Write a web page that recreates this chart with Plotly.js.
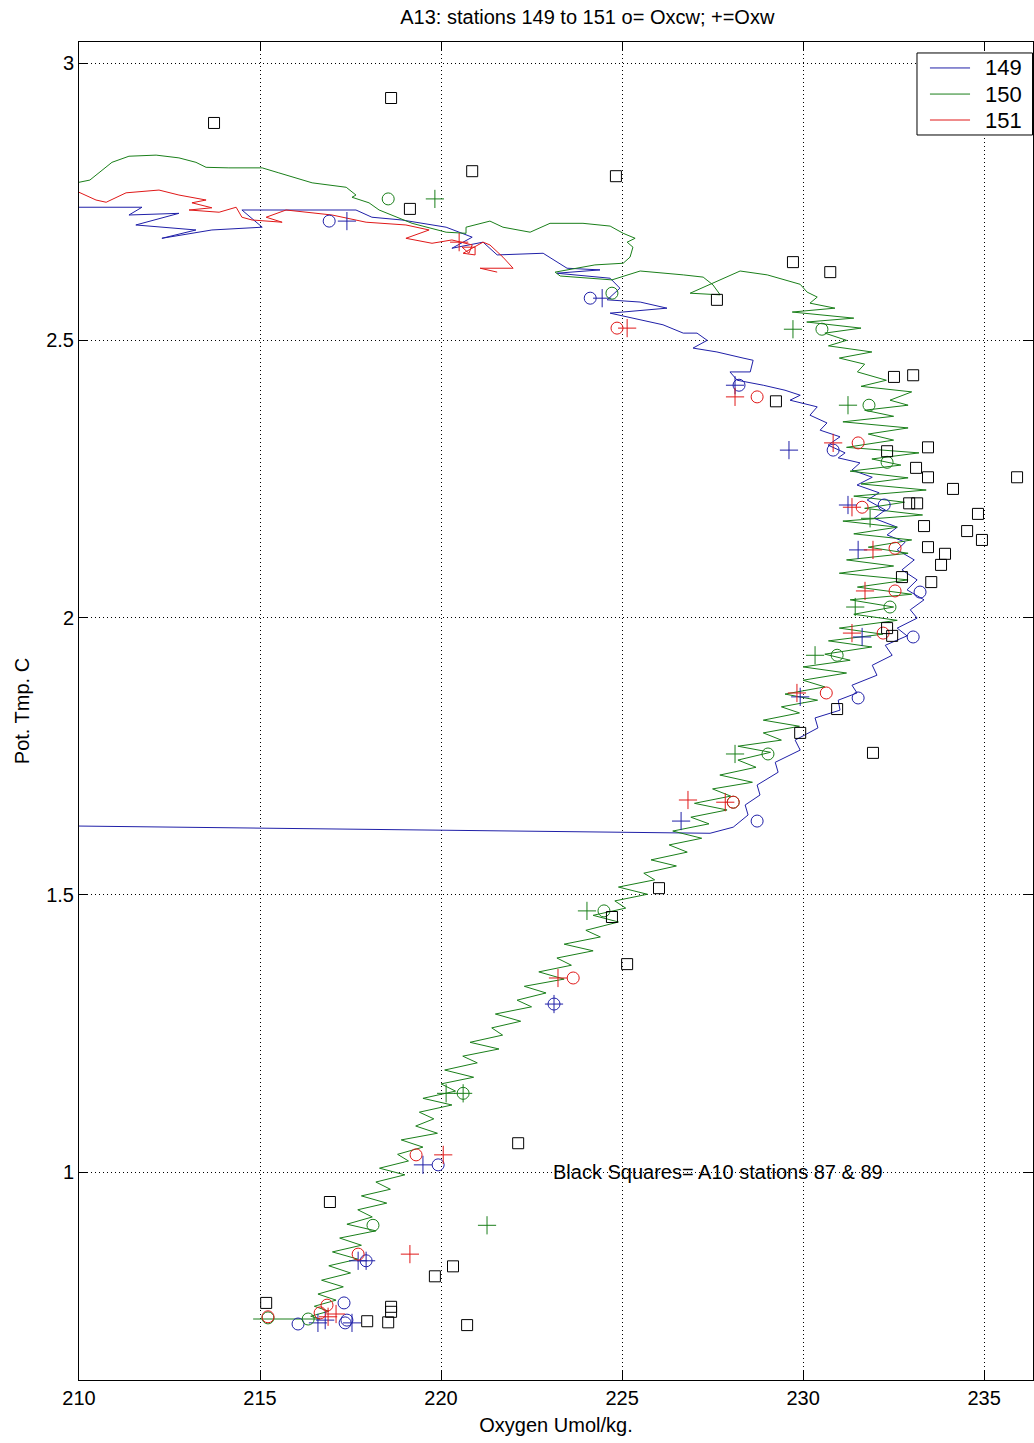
<!DOCTYPE html>
<html>
<head>
<meta charset="utf-8">
<script src="https://cdn.plot.ly/plotly-3.0.1.min.js"></script>
<style>html,body{margin:0;padding:0;background:#fff;}#chart{width:1034px;height:1443px;}</style>
</head>
<body>
<div id="chart"></div>
<script>
// ---- Station 149 (blue) CTD trace ----
const s149_x = [210.00,211.74,211.38,212.76,211.57,213.23,212.29,213.67,215.06,214.50,217.65,218.09,218.92,220.14,220.86,220.30,221.16,221.55,222.82,223.48,224.39,223.20,224.67,224.94,224.59,225.50,226.24,224.67,226.13,226.69,227.07,227.35,226.96,227.62,228.34,228.62,228.54,227.98,228.18,228.90,229.50,229.92,229.64,230.39,230.19,230.66,230.47,231.02,230.69,231.16,230.97,231.57,231.35,231.91,231.49,232.10,231.77,232.27,231.96,232.60,232.32,232.82,232.60,233.07,232.73,233.15,232.87,233.34,232.96,233.15,232.60,232.87,232.27,232.46,231.91,232.04,231.35,231.49,230.97,231.02,230.33,230.41,229.78,229.92,229.23,229.31,228.73,228.81,228.40,228.48,228.07,227.43,210.00];
const s149_y = [2.740,2.740,2.726,2.729,2.708,2.699,2.684,2.699,2.704,2.735,2.735,2.722,2.717,2.704,2.686,2.666,2.677,2.654,2.657,2.630,2.627,2.621,2.612,2.594,2.573,2.569,2.558,2.549,2.528,2.513,2.513,2.500,2.486,2.479,2.468,2.464,2.443,2.443,2.428,2.419,2.410,2.401,2.392,2.380,2.365,2.351,2.338,2.326,2.311,2.297,2.288,2.279,2.266,2.253,2.239,2.225,2.212,2.194,2.179,2.163,2.149,2.136,2.122,2.104,2.086,2.068,2.050,2.032,2.014,1.999,1.981,1.967,1.950,1.932,1.914,1.896,1.878,1.864,1.851,1.833,1.819,1.801,1.779,1.761,1.739,1.721,1.698,1.680,1.662,1.644,1.622,1.611,1.624];

// ---- Station 150 (green) CTD trace ----
const s150_x = [210.00,210.30,210.91,211.38,212.13,212.76,213.23,213.51,214.14,215.06,215.52,216.44,217.38,217.65,217.54,218.01,218.29,218.76,219.20,220.14,220.69,220.69,221.35,221.71,222.46,223.01,223.92,224.67,225.03,225.36,225.14,225.30,225.22,225.03,224.25,223.15,223.29,224.72,225.50,226.69,227.24,227.51,227.71,226.88,228.26,229.01,229.92,230.11,230.39,230.19,
230.88,229.70,231.40,230.10,231.60,230.60,231.20,230.70,231.90,231.00,231.70,231.50,232.30,231.60,233.00,232.40,232.90,231.70,232.50,231.10,232.90,231.80,232.50,231.20,233.20,231.90,232.70,231.30,232.90,231.60,233.40,231.40,232.80,231.70,233.30,231.10,232.60,231.40,233.00,231.80,232.90,231.20,232.50,231.00,232.90,231.50,233.00,231.30,232.50,231.40,232.60,231.00,232.20,230.70,231.90,230.60,231.30,230.00,231.20,230.00,230.60,229.50,230.40,229.40,229.90,228.90,229.90,228.90,229.40,228.20,229.10,228.20,228.70,227.70,228.60,227.50,228.00,227.00,227.90,226.90,227.40,226.40,227.20,226.30,226.80,225.80,226.50,225.60,225.90,224.90,225.70,224.80,225.10,224.20,224.90,224.00,224.40,223.40,224.20,223.20,223.60,222.70,223.40,222.30,222.90,222.10,222.50,221.50,222.20,221.40,221.70,220.80,221.60,220.60,221.00,220.10,220.90,220.00,220.40,219.50,220.30,219.40,219.80,219.30,219.90,218.90,219.50,218.80,219.10,218.30,219.00,218.20,218.60,217.80,218.50,217.70,218.10,217.40,218.20,217.20,217.80,217.00,217.70,216.90,217.50,216.70,217.30,216.60,217.10,216.50,216.90,216.40,216.66,214.81];
const s150_y = [2.785,2.789,2.821,2.832,2.834,2.829,2.821,2.812,2.811,2.811,2.802,2.784,2.776,2.762,2.758,2.748,2.735,2.722,2.711,2.695,2.693,2.704,2.715,2.704,2.695,2.711,2.711,2.706,2.693,2.684,2.677,2.668,2.650,2.639,2.636,2.623,2.616,2.609,2.625,2.618,2.614,2.600,2.582,2.585,2.625,2.618,2.601,2.587,2.578,2.567,
2.558,2.551,2.540,2.533,2.522,2.513,2.500,2.490,2.479,2.468,2.457,2.443,2.428,2.417,2.407,2.392,2.383,2.374,2.363,2.353,2.342,2.331,2.320,2.307,2.297,2.286,2.275,2.264,2.252,2.241,2.230,2.219,2.208,2.197,2.185,2.174,2.163,2.151,2.140,2.127,2.116,2.104,2.093,2.080,2.068,2.055,2.042,2.032,2.019,2.006,1.995,1.981,1.970,1.958,1.947,1.934,1.923,1.911,1.900,1.887,1.875,1.862,1.851,1.839,1.828,1.815,1.804,1.792,1.779,1.768,1.757,1.743,1.730,1.716,1.703,1.691,1.678,1.665,1.653,1.640,1.628,1.615,1.602,1.590,1.577,1.563,1.552,1.539,1.527,1.514,1.501,1.489,1.476,1.463,1.451,1.436,1.424,1.411,1.399,1.386,1.373,1.361,1.348,1.335,1.323,1.310,1.298,1.285,1.272,1.260,1.247,1.234,1.222,1.209,1.197,1.184,1.171,1.159,1.146,1.133,1.121,1.108,1.096,1.083,1.070,1.058,1.045,1.032,1.020,1.007,0.995,0.982,0.969,0.957,0.944,0.932,0.919,0.906,0.894,0.881,0.868,0.856,0.843,0.831,0.818,0.805,0.793,0.780,0.769,0.758,0.749,0.740,0.735,0.735];

// ---- Station 151 (red) CTD trace ----
const s151_x = [210.00,210.47,210.75,211.30,212.21,212.76,213.51,213.12,213.67,213.04,213.87,214.34,214.50,214.78,215.61,215.17,215.72,216.99,217.93,219.03,219.67,219.03,219.75,220.30,220.86,220.77,220.58,220.94,220.94,220.61,221.16,221.35,221.71,221.99,221.08,221.55];
const s151_y = [2.767,2.753,2.749,2.766,2.771,2.762,2.753,2.748,2.739,2.735,2.731,2.740,2.722,2.717,2.713,2.722,2.735,2.726,2.713,2.708,2.699,2.684,2.675,2.681,2.672,2.657,2.668,2.668,2.654,2.657,2.677,2.672,2.650,2.630,2.630,2.623];

// ---- Bottle samples: o = Oxcw, + = Oxw ----
const oxcw149_x = [216.91,224.12,228.23,230.83,232.24,233.23,233.04,231.52,228.73,223.12,219.92,217.93,217.32,217.40,217.35,216.05];
const oxcw149_y = [2.715,2.576,2.419,2.302,2.203,2.046,1.965,1.855,1.633,1.303,1.013,0.840,0.764,0.733,0.728,0.726];
const oxw149_x = [217.40,224.45,228.12,229.61,231.24,231.52,231.63,229.92,226.63,223.12,219.50,217.71,217.93,217.54,216.80,216.60];
const oxw149_y = [2.715,2.576,2.419,2.302,2.203,2.122,1.965,1.857,1.633,1.303,1.013,0.840,0.840,0.728,0.733,0.728];

const oxcw150_x = [218.54,224.72,230.52,231.82,232.32,232.40,230.94,229.03,228.07,224.50,220.61,218.12,216.33,215.22];
const oxcw150_y = [2.755,2.585,2.520,2.383,2.280,2.019,1.932,1.754,1.667,1.471,1.142,0.904,0.735,0.737];
const oxw150_x = [219.83,229.72,231.24,231.85,231.44,230.33,228.12,224.03,220.14,220.61,221.27];
const oxw150_y = [2.755,2.520,2.383,2.179,2.019,1.932,1.754,1.471,1.142,1.142,0.904];

const oxcw151_x = [224.86,228.73,231.52,231.63,232.54,232.54,232.21,230.64,228.07,223.65,219.31,217.71,216.85,216.66,215.22];
const oxcw151_y = [2.522,2.398,2.315,2.199,2.125,2.048,1.972,1.864,1.667,1.350,1.031,0.852,0.760,0.746,0.739];
const oxw151_x = [220.50,225.14,228.12,230.83,231.35,231.93,231.71,231.35,229.83,226.82,227.85,223.23,220.06,219.14,217.10,216.88];
const oxw151_y = [2.677,2.522,2.398,2.315,2.199,2.122,2.048,1.972,1.864,1.671,1.667,1.350,1.031,0.852,0.744,0.739];

// ---- A10 stations 87 & 89 (black squares) ----
const a10_x = [213.73,218.62,219.14,220.86,224.83,229.72,230.75,227.62,229.25,232.51,233.04,232.32,233.45,233.12,233.45,234.14,235.91,232.93,233.15,234.83,234.53,234.94,233.34,233.45,233.92,233.81,232.73,233.54,232.32,232.46,231.93,230.94,229.92,226.02,224.72,225.14,222.13,216.93,215.17,217.96,218.54,218.62,218.62,219.83,220.33,220.72];
const a10_y = [2.892,2.937,2.737,2.805,2.796,2.641,2.623,2.573,2.390,2.434,2.437,2.300,2.307,2.270,2.253,2.232,2.253,2.206,2.206,2.187,2.156,2.140,2.165,2.127,2.115,2.095,2.073,2.064,1.981,1.967,1.756,1.835,1.792,1.512,1.460,1.375,1.052,0.946,0.764,0.731,0.729,0.757,0.748,0.812,0.830,0.724];

const xTicks = [210,215,220,225,230,235];
const yTicks = [1,1.5,2,2.5,3];
const legendNames = ['149','150','151'];

const C149 = '#2020a8', C150 = '#1a7f1a', C151 = '#e01818';
const FONT = 'Liberation Sans, Arial, Helvetica, sans-serif';

function line(x, y, name, color) {
  return {x, y, name, type:'scatter', mode:'lines', line:{color, width:1}, showlegend:false};
}
function mk(x, y, symbol, color, size) {
  return {x, y, type:'scatter', mode:'markers', showlegend:false, hoverinfo:'skip',
    marker:{symbol, size, color, line:{color, width:1}}};
}

const data = [
  line(s149_x, s149_y, legendNames[0], C149),
  line(s150_x, s150_y, legendNames[1], C150),
  line(s151_x, s151_y, legendNames[2], C151),
  mk(oxcw149_x, oxcw149_y, 'circle-open', C149, 12),
  mk(oxw149_x, oxw149_y, 'cross-thin-open', C149, 13),
  mk(oxcw150_x, oxcw150_y, 'circle-open', C150, 12),
  mk(oxw150_x, oxw150_y, 'cross-thin-open', C150, 13),
  mk(oxcw151_x, oxcw151_y, 'circle-open', C151, 12),
  mk(oxw151_x, oxw151_y, 'cross-thin-open', C151, 13),
  mk(a10_x, a10_y, 'square-open', '#000000', 11)
];

const axisCommon = {
  showline:true, linecolor:'#000', linewidth:1, mirror:'ticks',
  ticks:'inside', ticklen:9, tickcolor:'#000', tickwidth:1,
  showgrid:true, gridcolor:'#000', gridwidth:1, griddash:'1px,3px',
  zeroline:false, tickfont:{family:FONT, size:20, color:'#000'}
};

// custom MATLAB-style legend box (paper coordinates)
const legColors = [C149, C150, C151];
const legRows = [0.9806, 0.9611, 0.9417];
const shapes = [{type:'rect', xref:'paper', yref:'paper', x0:0.8784, x1:0.9995, y0:0.9305, y1:0.9918,
                 line:{color:'#000', width:1}, fillcolor:'#fff', layer:'above'}];
const annotations = [{text:'Black Squares= A10 stations 87 & 89', x:223.04, y:1.0, xref:'x', yref:'y',
                xanchor:'left', yanchor:'middle', showarrow:false, font:{family:FONT, size:20, color:'#000'}}];
legRows.forEach((yy, i) => {
  shapes.push({type:'line', xref:'paper', yref:'paper', x0:0.8920, x1:0.9340, y0:yy, y1:yy,
               line:{color:legColors[i], width:1}, layer:'above'});
  annotations.push({text:legendNames[i], xref:'paper', yref:'paper', x:0.9476, y:yy, xanchor:'left', yanchor:'middle',
               showarrow:false, font:{family:FONT, size:22, color:'#000'}});
});

const layout = {
  width:1034, height:1443,
  margin:{l:79, r:1, t:42, b:63, pad:0},
  paper_bgcolor:'#fff', plot_bgcolor:'#fff',
  font:{family:FONT, color:'#000', size:20},
  showlegend:false,
  title:{text:'A13: stations 149 to 151 o= Oxcw; +=Oxw', x:0.568, xref:'container', xanchor:'center',
         y:0.988, yref:'container', yanchor:'middle', font:{family:FONT, size:20, color:'#000'}},
  xaxis:Object.assign({}, axisCommon, {range:[210,236.35], tickvals:xTicks, ticktext:xTicks.map(String),
         title:{text:'Oxygen Umol/kg.', font:{family:FONT, size:20}, standoff:9}}),
  yaxis:Object.assign({}, axisCommon, {range:[0.625,3.038], tickvals:yTicks, ticktext:yTicks.map(String),
         title:{text:'Pot. Tmp. C', font:{family:FONT, size:20}, standoff:11}}),
  shapes, annotations
};

Plotly.newPlot('chart', data, layout, {displayModeBar:false, staticPlot:true});
</script>
</body>
</html>
